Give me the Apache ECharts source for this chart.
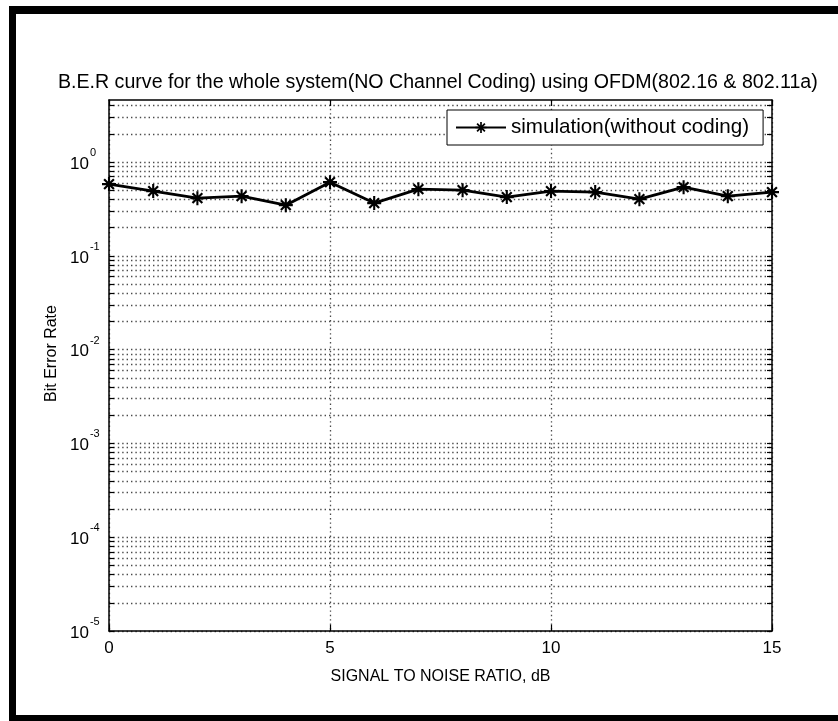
<!DOCTYPE html>
<html>
<head>
<meta charset="utf-8">
<script src="https://cdn.jsdelivr.net/npm/echarts@6/dist/echarts.min.js"></script>
<style>
  html, body { margin: 0; padding: 0; background: #fff; }
  #chart { width: 838px; height: 721px; }
</style>
</head>
<body>
<div id="chart"></div>
<script>
// Signal-to-noise ratio (dB) and measured bit error rate
const snrDb = [0, 1, 2, 3, 4, 5, 6, 7, 8, 9, 10, 11, 12, 13, 14, 15];
const berNoCoding = [0.583, 0.491, 0.413, 0.434, 0.348, 0.612, 0.366, 0.515,
                     0.503, 0.424, 0.491, 0.479, 0.403, 0.541, 0.434, 0.479];

// Axis ticks
const xTicks = [0, 5, 10, 15];
const decadeTicks = [1e-5, 1e-4, 1e-3, 1e-2, 1e-1, 1e0];
const minorMantissas = [2, 3, 4, 5, 6, 7, 8, 9];
const yMin = 1e-5;
const yMax = 4.6;

// every decade plus its 2..9 subdivisions, for ticks and the dotted grid
const logGridValues = [];
decadeTicks.forEach(d => {
  logGridValues.push(d);
  minorMantissas.forEach(m => {
    const v = +(m * d).toPrecision(6);
    if (v <= yMax) logGridValues.push(v);
  });
});

const FONT = 'Liberation Sans, Arial, sans-serif';

// MATLAB-style asterisk marker: plus sign overlaid with a cross
const starPath = 'path://M-10,-1.5L10,-1.5L10,1.5L-10,1.5Z' +
  'M-1.5,-10L1.5,-10L1.5,10L-1.5,10Z' +
  'M-5.9,-8.1L8.1,5.9L5.9,8.1L-8.1,-5.9Z' +
  'M5.9,-8.1L8.1,-5.9L-5.9,8.1L-8.1,5.9Z';

const dotted = { color: '#4a4a4a', width: 1.3, type: [1.4, 3.0] };
const blackLine = { show: true, onZero: false, lineStyle: { color: '#000', width: 1.5 } };

const chart = echarts.init(document.getElementById('chart'), null, { renderer: 'canvas' });

chart.setOption({
  backgroundColor: '#fff',
  animation: false,
  textStyle: { fontFamily: FONT },
  title: {
    text: 'B.E.R curve for the whole system(NO Channel Coding) using OFDM(802.16 & 802.11a)',
    left: 58,
    top: 73,
    padding: 0,
    textStyle: { fontFamily: FONT, fontSize: 19.6, fontWeight: 'normal', color: '#000' }
  },
  legend: {
    left: 447,
    top: 110,
    itemWidth: 50,
    itemHeight: 14,
    padding: [7, 14, 7, 8],
    borderColor: '#000',
    borderWidth: 1,
    backgroundColor: '#fff',
    textStyle: { fontFamily: FONT, fontSize: 20.6, color: '#000' },
    data: ['simulation(without coding)']
  },
  grid: { left: 109, right: 66, top: 100, bottom: 90, containLabel: false },
  xAxis: [
    {
      type: 'value',
      position: 'bottom',
      min: 0, max: 15, interval: 5,
      name: 'SIGNAL TO NOISE RATIO, dB',
      nameLocation: 'middle',
      nameGap: 38,
      nameTextStyle: { fontFamily: FONT, fontSize: 16, color: '#000' },
      axisLine: blackLine,
      axisTick: { show: true, inside: true, length: 6, lineStyle: { color: '#000', width: 1.2 } },
      axisLabel: { show: true, margin: 9, fontFamily: FONT, fontSize: 17, color: '#000',
                   customValues: xTicks },
      splitLine: { show: true, lineStyle: dotted }
    },
    {
      type: 'value',
      position: 'top',
      min: 0, max: 15, interval: 5,
      axisLine: blackLine,
      axisTick: { show: true, inside: true, length: 6, lineStyle: { color: '#000', width: 1.2 } },
      axisLabel: { show: false },
      splitLine: { show: false }
    }
  ],
  yAxis: [
    {
      type: 'log',
      logBase: 10,
      position: 'left',
      min: yMin, max: yMax,
      name: 'Bit Error Rate',
      nameLocation: 'middle',
      nameGap: 48,
      nameTextStyle: { fontFamily: FONT, fontSize: 16, color: '#000', padding: [0, 0, 0, 24] },
      axisLine: blackLine,
      axisTick: { show: true, inside: true, length: 5, customValues: logGridValues,
                  lineStyle: { color: '#000', width: 1.2 } },
      axisLabel: {
        show: true,
        margin: 39,
        align: 'left',
        customValues: decadeTicks,
        formatter: v => '{b|10}{s|' + Math.round(Math.log10(v)) + '}',
        rich: {
          // base "10" sits low in the line box, the exponent rides at its top
          b: { fontFamily: FONT, fontSize: 17, color: '#000', verticalAlign: 'bottom',
               padding: [0, 0, 4, 0] },
          s: { fontFamily: FONT, fontSize: 11, color: '#000', verticalAlign: 'top',
               padding: [0, 0, 18, 1] }
        }
      },
      splitLine: { show: true, lineStyle: dotted }
    },
    {
      type: 'log',
      logBase: 10,
      position: 'right',
      min: yMin, max: yMax,
      axisLine: blackLine,
      axisTick: { show: true, inside: true, length: 5, customValues: logGridValues,
                  lineStyle: { color: '#000', width: 1.2 } },
      axisLabel: { show: false },
      splitLine: { show: false }
    }
  ],
  series: [
    {
      name: 'simulation(without coding)',
      type: 'line',
      xAxisIndex: 0,
      yAxisIndex: 0,
      clip: false,
      data: snrDb.map((x, i) => [x, berNoCoding[i]]),
      symbol: starPath,
      symbolSize: 14,
      showAllSymbol: true,
      lineStyle: { color: '#000', width: 2.8 },
      itemStyle: { color: '#000' },
      z: 5
    }
  ],
  graphic: [
    // black picture frame
    { type: 'rect', shape: { x: 9, y: 6, width: 829, height: 8 }, style: { fill: '#000' }, z: 100 },
    { type: 'rect', shape: { x: 9, y: 6, width: 7, height: 715 }, style: { fill: '#000' }, z: 100 },
    { type: 'rect', shape: { x: 9, y: 715, width: 829, height: 6 }, style: { fill: '#000' }, z: 100 }
  ]
});
</script>
</body>
</html>
